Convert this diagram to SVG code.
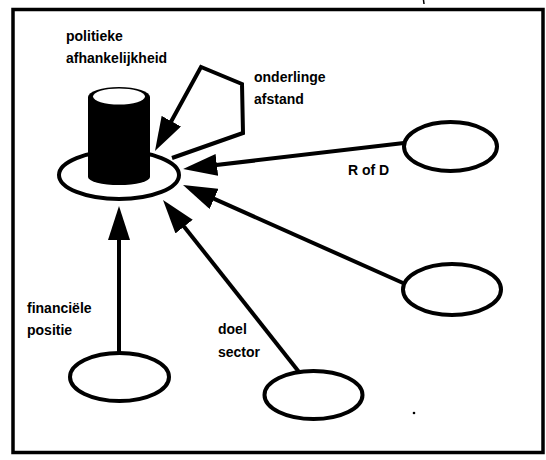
<svg xmlns="http://www.w3.org/2000/svg" width="546" height="460" viewBox="0 0 546 460">
  <defs>
    <style>
      .frame { fill: none; stroke: #000; stroke-width: 3.5; }
      .node { fill: #fff; stroke: #000; stroke-width: 4; }
      .edge { fill: none; stroke: #000; stroke-width: 4; stroke-linejoin: miter; }
      .label { font-family: "Liberation Sans", Arial, sans-serif; font-size: 14px; font-weight: bold; fill: #000; }
    </style>
    <marker id="arrow" markerUnits="userSpaceOnUse" viewBox="0 -11 34 22" markerWidth="34" markerHeight="22" refX="20" refY="0" orient="auto">
      <path d="M0,-11 L34,0 L0,11 z" fill="#000"/>
    </marker>
  </defs>

  <rect id="frame" class="frame" x="13" y="9.5" width="530" height="443"/>

  <!-- centre: cylinder standing on an ellipse -->
  <g id="centre">
    <ellipse class="node" cx="119" cy="175" rx="60" ry="24"/>
    <path d="M88,97 L88,177 A31,8 0 0 0 150,177 L150,97 A31,10 0 0 0 88,97 z" fill="#000"/>
    <ellipse cx="119" cy="96.5" rx="26" ry="8" fill="#fff"/>
  </g>

  <g id="node-rofd">
    <ellipse class="node" cx="450.5" cy="146.5" rx="46.5" ry="24.5"/>
  </g>
  <g id="node-right">
    <ellipse class="node" cx="452" cy="289.5" rx="49" ry="25.5"/>
  </g>
  <g id="node-doel">
    <ellipse class="node" cx="313.5" cy="395" rx="49" ry="24"/>
  </g>
  <g id="node-fin">
    <ellipse class="node" cx="119.5" cy="377" rx="49.5" ry="24"/>
  </g>

  <g id="connectors">
    <!-- loop: onderlinge afstand -->
    <path class="edge" d="M172,158 L243,133 L242,84 L201,67 L161.7,138.7" marker-end="url(#arrow)"/>
    <!-- R of D -->
    <path class="edge" d="M404,143 L197,167.3" marker-end="url(#arrow)"/>
    <!-- lower right -->
    <path class="edge" d="M403,283 L195.8,190.7" marker-end="url(#arrow)"/>
    <!-- doel sector -->
    <path class="edge" d="M299,372 L171.7,210.9" marker-end="url(#arrow)"/>
    <!-- financiele positie -->
    <path class="edge" d="M119,353 L119,220" marker-end="url(#arrow)"/>
  </g>

  <g id="labels">
    <text class="label" x="66" y="41">politieke</text>
    <text class="label" x="66" y="63">afhankelijkheid</text>
    <text class="label" x="254" y="82">onderlinge</text>
    <text class="label" x="254" y="104">afstand</text>
    <text class="label" x="348" y="175">R of D</text>
    <text class="label" x="27" y="313">financiële</text>
    <text class="label" x="27" y="335">positie</text>
    <text class="label" x="218" y="334">doel</text>
    <text class="label" x="218" y="357">sector</text>
  </g>

  <!-- small specks -->
  <circle cx="414" cy="413" r="1.3" fill="#000"/>
  <path d="M423.5,0 L424,4" stroke="#000" stroke-width="1.5"/>
</svg>
